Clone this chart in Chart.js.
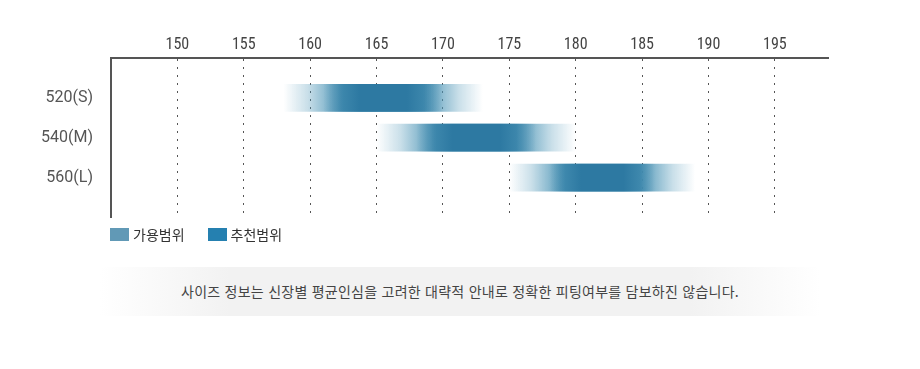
<!DOCTYPE html>
<html lang="ko">
<head>
<meta charset="utf-8">
<script src="https://cdn.jsdelivr.net/npm/chart.js@4.4.1/dist/chart.umd.min.js"></script>
<style>
  body { margin: 0; background: #fff; }
  #wrap { position: relative; width: 920px; height: 369px; overflow: hidden; }
  #chart { position: absolute; left: 0; top: 0; }
  #legend { position: absolute; left: 110px; top: 224px; font: 14px 'Noto Sans CJK KR', sans-serif; color: #333; white-space: nowrap; }
  #legend span.item { display: inline-block; margin-right: 23px; }
  #legend i { display: inline-block; width: 19px; height: 13px; vertical-align: -1px; margin-right: 4px; }
  #note { position: absolute; left: 100px; top: 267px; width: 720px; height: 49px; text-align: center;
    font: 14px 'Noto Sans CJK KR', sans-serif; line-height: 49px; letter-spacing: 0.25px; color: #444;
    background: linear-gradient(to right, rgba(242,242,242,0) 0%, #f2f2f2 18%, #f2f2f2 82%, rgba(242,242,242,0) 100%); }
</style>
</head>
<body>
<div id="wrap">
  <canvas id="chart" width="920" height="245"></canvas>
  <div id="legend"></div>
  <div id="note">사이즈 정보는 신장별 평균인심을 고려한 대략적 안내로 정확한 피팅여부를 담보하진 않습니다.</div>
</div>
<script>
// 사이즈별 신장 범위 (cm)
var sizes = ['520(S)', '540(M)', '560(L)'];
var availStart = [158, 165, 175];
var availEnd = [173, 180, 189];
var recStart = [161, 168, 178];
var recEnd = [170, 177, 186];
var xTicks = [150, 155, 160, 165, 170, 175, 180, 185, 190, 195];

// 위아래 여백용 빈 카테고리
var labels = [''].concat(sizes, ['']);

function ranges(starts, ends) {
	var out = [null];
	starts.forEach(function(s, i) { out.push([s, ends[i]]); });
	out.push(null);
	return out;
}

// 막대 양끝이 흐려지는 가로 그라데이션
function fade(rgb, stops) {
	return function(ctx) {
		var chart = ctx.chart;
		if (!chart.chartArea || !Array.isArray(ctx.raw)) return 'rgb(' + rgb + ')';
		var x = chart.scales.x;
		var g = chart.ctx.createLinearGradient(x.getPixelForValue(ctx.raw[0]), 0, x.getPixelForValue(ctx.raw[1]), 0);
		stops.forEach(function(s) { g.addColorStop(s[0], 'rgba(' + rgb + ',' + s[1] + ')'); });
		return g;
	};
}

var chart = new Chart(document.getElementById('chart'), {
	type: 'bar',
	data: {
		labels: labels,
		datasets: [
			{
				label: '가용범위',
				data: ranges(availStart, availEnd),
				order: 2,
				legendColor: '#6199b6',
				backgroundColor: fade('78,150,183', [[0, 0], [0.12, 0.3], [0.3, 1], [0.7, 1], [0.88, 0.3], [1, 0]]),
			},
			{
				label: '추천범위',
				data: ranges(recStart, recEnd),
				order: 1,
				legendColor: '#2580b0',
				backgroundColor: fade('45,121,162', [[0, 0], [0.3, 1], [0.7, 1], [1, 0]]),
			},
		],
	},
	options: {
		indexAxis: 'y',
		responsive: false,
		animation: false,
		events: [],
		layout: { padding: { left: 0, right: 92, top: 0, bottom: 6 } },
		datasets: {
			bar: { grouped: false, barThickness: 27, borderWidth: 0, borderSkipped: false },
		},
		scales: {
			x: {
				type: 'linear',
				position: 'top',
				min: 145,
				max: 199,
				afterFit: function(s) { s.height = 58; },
				ticks: {
					stepSize: 5,
					includeBounds: false,
					padding: 3,
					color: '#444',
					font: { family: "'Liberation Sans Narrow', 'Roboto Condensed', Roboto", size: 16 },
					callback: function(v) { return xTicks.indexOf(v) >= 0 ? v : ''; },
				},
				grid: { color: '#555', lineWidth: 1, drawTicks: false },
				border: { display: true, color: '#555', width: 2, dash: [2, 6] },
			},
			y: {
				type: 'category',
				offset: false,
				afterFit: function(s) { s.width = 111; },
				ticks: {
					padding: 18,
					color: '#555',
					font: { family: 'Roboto', size: 16 },
				},
				grid: { display: false, drawTicks: false },
				border: { display: true, color: '#555', width: 2 },
			},
		},
		plugins: {
			legend: { display: false },
			tooltip: { enabled: false },
		},
	},
});

// 범례
var legend = document.getElementById('legend');
chart.data.datasets.forEach(function(ds) {
	var item = document.createElement('span');
	item.className = 'item';
	item.innerHTML = '<i style="background:' + ds.legendColor + '"></i>' + ds.label;
	legend.appendChild(item);
});
</script>
</body>
</html>
